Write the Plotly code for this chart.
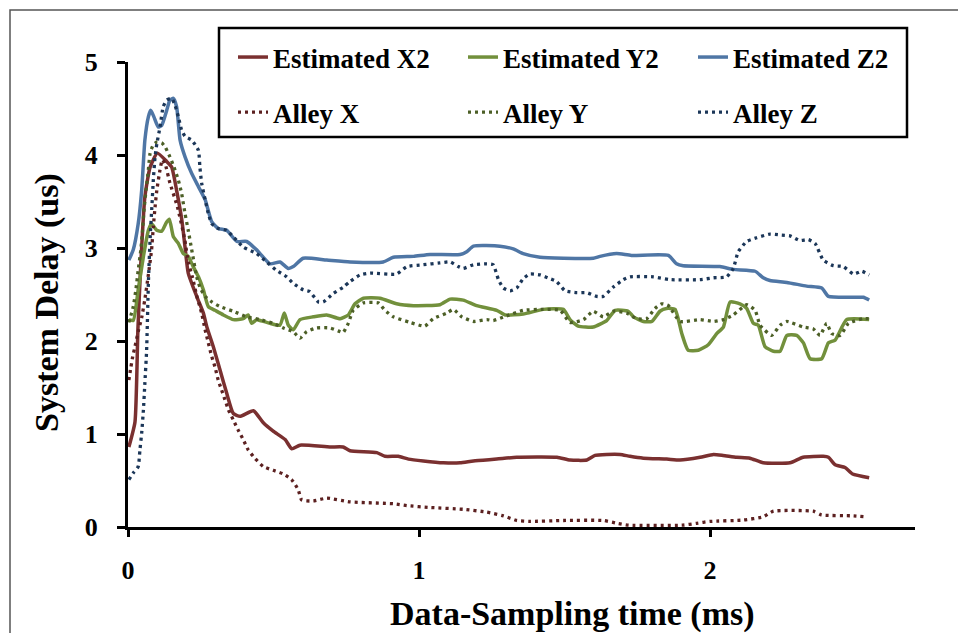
import plotly.graph_objects as go

# ---- data: (time ms, delay us) ----
est_x2 = [(0.003,0.86),(0.024,1.13),(0.034,2.12),(0.044,2.83),(0.058,3.55),(0.076,3.87),(0.101,4.02),
          (0.133,3.93),(0.150,3.87),(0.167,3.62),(0.185,3.30),(0.196,3.01),(0.207,2.73),(0.236,2.48),
          (0.259,2.30),(0.271,2.15),(0.293,1.94),(0.316,1.69),(0.339,1.44),(0.362,1.22),(0.385,1.19),
          (0.431,1.25),(0.465,1.12),(0.499,1.03),(0.540,0.94),(0.563,0.84),(0.591,0.88),(0.694,0.86),
          (0.739,0.86),(0.763,0.82),(0.855,0.80),(0.883,0.76),(0.929,0.76),(0.964,0.73),(1.015,0.71),
          (1.084,0.69),(1.141,0.69),(1.187,0.71),(1.267,0.73),(1.336,0.75),(1.474,0.75),(1.519,0.72),
          (1.577,0.72),(1.605,0.77),(1.645,0.78),(1.691,0.78),(1.725,0.76),(1.771,0.74),(1.851,0.73),
          (1.897,0.72),(1.966,0.75),(2.012,0.78),(2.045,0.77),(2.092,0.75),(2.137,0.74),(2.183,0.69),
          (2.275,0.69),(2.320,0.75),(2.389,0.76),(2.407,0.75),(2.430,0.67),(2.464,0.64),(2.490,0.57),
          (2.547,0.53)]

est_y2 = [(0.003,2.23),(0.018,2.22),(0.035,2.55),(0.053,2.91),(0.070,3.19),(0.081,3.26),(0.099,3.19),
          (0.116,3.18),(0.133,3.28),(0.142,3.31),(0.156,3.12),(0.173,3.05),(0.190,2.94),(0.207,2.91),
          (0.224,2.80),(0.242,2.69),(0.259,2.55),(0.276,2.37),(0.299,2.33),(0.328,2.28),(0.362,2.23),
          (0.396,2.24),(0.413,2.28),(0.425,2.19),(0.442,2.23),(0.454,2.22),(0.488,2.19),(0.522,2.17),
          (0.537,2.30),(0.551,2.17),(0.568,2.12),(0.591,2.23),(0.637,2.26),(0.683,2.28),(0.729,2.24),
          (0.757,2.28),(0.780,2.40),(0.809,2.46),(0.866,2.46),(0.923,2.40),(0.981,2.38),(1.072,2.39),
          (1.107,2.45),(1.152,2.44),(1.198,2.38),(1.267,2.33),(1.296,2.28),(1.358,2.29),(1.427,2.34),
          (1.496,2.34),(1.519,2.23),(1.547,2.16),(1.599,2.15),(1.645,2.22),(1.674,2.33),(1.719,2.32),
          (1.737,2.26),(1.771,2.21),(1.800,2.21),(1.828,2.32),(1.851,2.35),(1.880,2.34),(1.903,2.08),
          (1.925,1.90),(1.960,1.90),(1.994,1.96),(2.023,2.08),(2.046,2.15),(2.069,2.42),(2.103,2.40),
          (2.126,2.35),(2.149,2.19),(2.166,2.17),(2.189,1.94),(2.218,1.89),(2.241,1.89),(2.264,2.06),
          (2.298,2.06),(2.321,1.98),(2.344,1.81),(2.384,1.81),(2.407,1.98),(2.430,2.01),(2.470,2.23),
          (2.547,2.23)]

est_z2 = [(0.003,2.87),(0.018,2.98),(0.035,3.26),(0.047,3.62),(0.058,4.16),(0.070,4.41),(0.078,4.48),
          (0.089,4.41),(0.104,4.30),(0.116,4.32),(0.133,4.48),(0.144,4.59),(0.156,4.61),(0.167,4.52),
          (0.179,4.16),(0.196,3.98),(0.219,3.80),(0.242,3.66),(0.265,3.52),(0.288,3.28),(0.310,3.21),
          (0.339,3.19),(0.374,3.07),(0.408,3.07),(0.442,2.98),(0.488,2.83),(0.522,2.85),(0.551,2.78),
          (0.568,2.80),(0.602,2.89),(0.683,2.87),(0.763,2.85),(0.877,2.85),(0.912,2.90),(0.981,2.91),
          (1.038,2.93),(1.141,2.93),(1.164,2.96),(1.187,3.02),(1.278,3.02),(1.324,2.99),(1.358,2.94),
          (1.416,2.90),(1.496,2.89),(1.599,2.89),(1.622,2.91),(1.679,2.94),(1.730,2.92),(1.857,2.92),
          (1.885,2.83),(1.908,2.81),(2.034,2.80),(2.080,2.77),(2.155,2.75),(2.183,2.68),(2.206,2.65),
          (2.264,2.63),(2.332,2.59),(2.384,2.57),(2.407,2.48),(2.493,2.47),(2.527,2.47),(2.547,2.44)]

alley_x = [(0.003,1.58),(0.010,1.72),(0.016,1.83),(0.024,1.94),(0.035,2.10),(0.047,2.25),(0.058,2.45),
           (0.069,2.69),(0.081,2.98),(0.087,3.23),(0.093,3.44),(0.099,3.62),(0.110,3.84),(0.118,3.95),
           (0.128,3.90),(0.144,3.70),(0.170,3.44),(0.195,3.09),(0.207,2.85),(0.222,2.68),(0.235,2.50),
           (0.253,2.30),(0.265,2.12),(0.276,1.98),(0.288,1.83),(0.299,1.72),(0.310,1.58),(0.322,1.47),
           (0.333,1.37),(0.345,1.26),(0.362,1.15),(0.379,1.04),(0.396,0.94),(0.413,0.83),(0.436,0.74),
           (0.465,0.65),(0.499,0.61),(0.534,0.57),(0.562,0.51),(0.585,0.40),(0.597,0.29),(0.637,0.28),
           (0.683,0.31),(0.763,0.27),(0.912,0.25),(0.958,0.23),(1.038,0.21),(1.153,0.19),(1.233,0.16),
           (1.290,0.12),(1.336,0.07),(1.381,0.06),(1.496,0.07),(1.633,0.07),(1.680,0.04),(1.720,0.02),
           (1.907,0.02),(1.954,0.04),(2.000,0.06),(2.115,0.075),(2.183,0.11),(2.218,0.17),(2.355,0.17),
           (2.383,0.13),(2.493,0.12),(2.533,0.11)]

alley_y = [(0.003,2.20),(0.018,2.37),(0.027,2.55),(0.035,2.76),(0.044,2.98),(0.050,3.19),(0.055,3.41),
           (0.062,3.62),(0.070,3.84),(0.076,4.02),(0.087,4.11),(0.100,4.14),(0.116,4.13),(0.127,4.09),
           (0.144,3.98),(0.158,3.87),(0.173,3.73),(0.184,3.59),(0.196,3.37),(0.207,3.19),(0.219,2.98),
           (0.227,2.84),(0.236,2.69),(0.247,2.58),(0.265,2.48),(0.288,2.42),(0.316,2.37),(0.362,2.32),
           (0.408,2.26),(0.454,2.23),(0.499,2.19),(0.534,2.14),(0.568,2.10),(0.591,2.03),(0.614,2.10),
           (0.648,2.14),(0.694,2.14),(0.729,2.10),(0.739,2.09),(0.757,2.19),(0.774,2.33),(0.809,2.41),
           (0.860,2.41),(0.883,2.33),(0.912,2.26),(0.969,2.20),(1.020,2.16),(1.049,2.24),(1.095,2.30),
           (1.118,2.34),(1.147,2.26),(1.187,2.21),(1.233,2.23),(1.255,2.22),(1.301,2.27),(1.358,2.33),
           (1.427,2.34),(1.485,2.33),(1.519,2.20),(1.565,2.23),(1.599,2.32),(1.633,2.26),(1.668,2.32),
           (1.714,2.30),(1.748,2.24),(1.782,2.24),(1.811,2.35),(1.834,2.40),(1.857,2.38),(1.897,2.21),
           (1.966,2.23),(2.012,2.21),(2.046,2.23),(2.080,2.28),(2.126,2.39),(2.155,2.33),(2.172,2.17),
           (2.212,2.06),(2.241,2.17),(2.264,2.21),(2.320,2.15),(2.355,2.13),(2.378,2.06),(2.401,2.19),
           (2.418,2.08),(2.447,2.06),(2.476,2.19),(2.527,2.24),(2.547,2.24)]

alley_z = [(0.003,0.51),(0.018,0.58),(0.035,0.65),(0.041,0.83),(0.047,1.01),(0.053,1.26),(0.058,1.55),
           (0.064,1.90),(0.070,2.62),(0.076,3.10),(0.082,3.44),(0.087,3.73),(0.093,3.98),(0.099,4.12),
           (0.110,4.30),(0.121,4.52),(0.133,4.59),(0.150,4.61),(0.161,4.54),(0.173,4.41),(0.184,4.27),
           (0.196,4.20),(0.219,4.16),(0.242,4.05),(0.247,3.87),(0.253,3.70),(0.265,3.52),(0.276,3.37),
           (0.288,3.26),(0.310,3.21),(0.339,3.19),(0.362,3.12),(0.396,3.01),(0.442,2.94),(0.476,2.85),
           (0.510,2.76),(0.545,2.69),(0.568,2.62),(0.602,2.55),(0.625,2.53),(0.654,2.42),(0.671,2.42),
           (0.705,2.51),(0.740,2.58),(0.763,2.64),(0.797,2.71),(0.832,2.73),(0.923,2.72),(0.958,2.80),
           (1.015,2.82),(1.072,2.84),(1.107,2.85),(1.135,2.80),(1.152,2.78),(1.187,2.82),(1.233,2.83),
           (1.255,2.82),(1.273,2.66),(1.290,2.57),(1.313,2.54),(1.336,2.57),(1.358,2.67),(1.381,2.72),
           (1.416,2.71),(1.450,2.67),(1.473,2.64),(1.502,2.54),(1.542,2.52),(1.576,2.52),(1.610,2.48),
           (1.633,2.48),(1.668,2.58),(1.702,2.66),(1.725,2.69),(1.805,2.69),(1.863,2.66),(1.966,2.66),
           (2.012,2.68),(2.057,2.69),(2.080,2.78),(2.097,2.96),(2.126,3.07),(2.160,3.11),(2.206,3.15),
           (2.241,3.14),(2.275,3.13),(2.309,3.08),(2.338,3.09),(2.361,3.05),(2.389,2.87),(2.424,2.81),
           (2.458,2.80),(2.493,2.72),(2.522,2.75),(2.547,2.71)]

x_ticks = [0, 1, 2]
y_ticks = [0, 1, 2, 3, 4, 5]

series = [
    ("Estimated X2", est_x2, "#7a3030", "solid", "legend"),
    ("Estimated Y2", est_y2, "#72903c", "solid", "legend"),
    ("Estimated Z2", est_z2, "#4f76a5", "solid", "legend"),
    ("Alley X", alley_x, "#5c2020", "3px,4px", "legend2"),
    ("Alley Y", alley_y, "#4c5f26", "3px,4px", "legend2"),
    ("Alley Z", alley_z, "#1b3658", "3px,4px", "legend2"),
]

FONT = "Liberation Serif, Times New Roman, serif"

fig = go.Figure()
for name, pts, color, dash, leg in series:
    fig.add_trace(go.Scatter(
        x=[p[0] for p in pts], y=[p[1] for p in pts], name=name, mode="lines",
        line=dict(color=color, width=3.5 if dash == "solid" else 3.3, dash=dash,
                  shape="spline", smoothing=0.5),
        legend=leg,
    ))

W, H = 958, 633
L, R, T, B = 128, 43, 62, 106
pw, ph = W - L - R, H - T - B

def px_x(p):
    return (p - L) / pw

def px_y(p):
    return (H - B - p) / ph

legend_common = dict(orientation="h", xanchor="left", yanchor="top", entrywidth=185,
                     entrywidthmode="pixels", bgcolor="rgba(0,0,0,0)", borderwidth=0,
                     font=dict(family=FONT, size=27, color="black", weight="bold"))

fig.update_layout(
    width=W, height=H,
    margin=dict(l=L, r=R, t=T, b=B),
    paper_bgcolor="white", plot_bgcolor="white",
    showlegend=True,
    legend=dict(x=px_x(233), y=px_y(33), **legend_common),
    legend2=dict(x=px_x(233), y=px_y(88), **legend_common),
    xaxis=dict(range=[0, (915 - L) / 291], tickvals=x_ticks, ticktext=[str(v) for v in x_ticks],
               showgrid=False, zeroline=False, showline=True, linecolor="black", linewidth=3,
               ticks="outside", ticklen=7, tickwidth=3, tickcolor="black",
               ticklabelstandoff=11,
               tickfont=dict(family=FONT, size=26, color="black", weight="bold")),
    yaxis=dict(range=[0, 5], tickvals=y_ticks, ticktext=[str(v) for v in y_ticks],
               showgrid=False, zeroline=False, showline=True, linecolor="black", linewidth=3,
               ticks="outside", ticklen=8, tickwidth=3, tickcolor="black",
               ticklabelstandoff=14,
               tickfont=dict(family=FONT, size=26, color="black", weight="bold")),
    shapes=[
        # outer frame
        dict(type="rect", xref="paper", yref="paper",
             x0=px_x(10), y0=px_y(700), x1=px_x(1000), y1=px_y(10),
             line=dict(color="#555555", width=1.5), fillcolor="rgba(0,0,0,0)", layer="below"),
        # legend box
        dict(type="rect", xref="paper", yref="paper",
             x0=px_x(219), y0=px_y(137), x1=px_x(907), y1=px_y(28),
             line=dict(color="black", width=2.5), fillcolor="rgba(0,0,0,0)", layer="above"),
    ],
    annotations=[
        dict(text="Data-Sampling time (ms)", xref="paper", yref="paper",
             x=px_x(572), y=px_y(614), xanchor="center", yanchor="middle", showarrow=False,
             font=dict(family=FONT, size=34, color="black", weight="bold")),
        dict(text="System Delay (us)", xref="paper", yref="paper", textangle=-90,
             x=px_x(47), y=px_y(303), xanchor="center", yanchor="middle", showarrow=False,
             font=dict(family=FONT, size=34, color="black", weight="bold")),
    ],
)

fig.write_html("out.html")
